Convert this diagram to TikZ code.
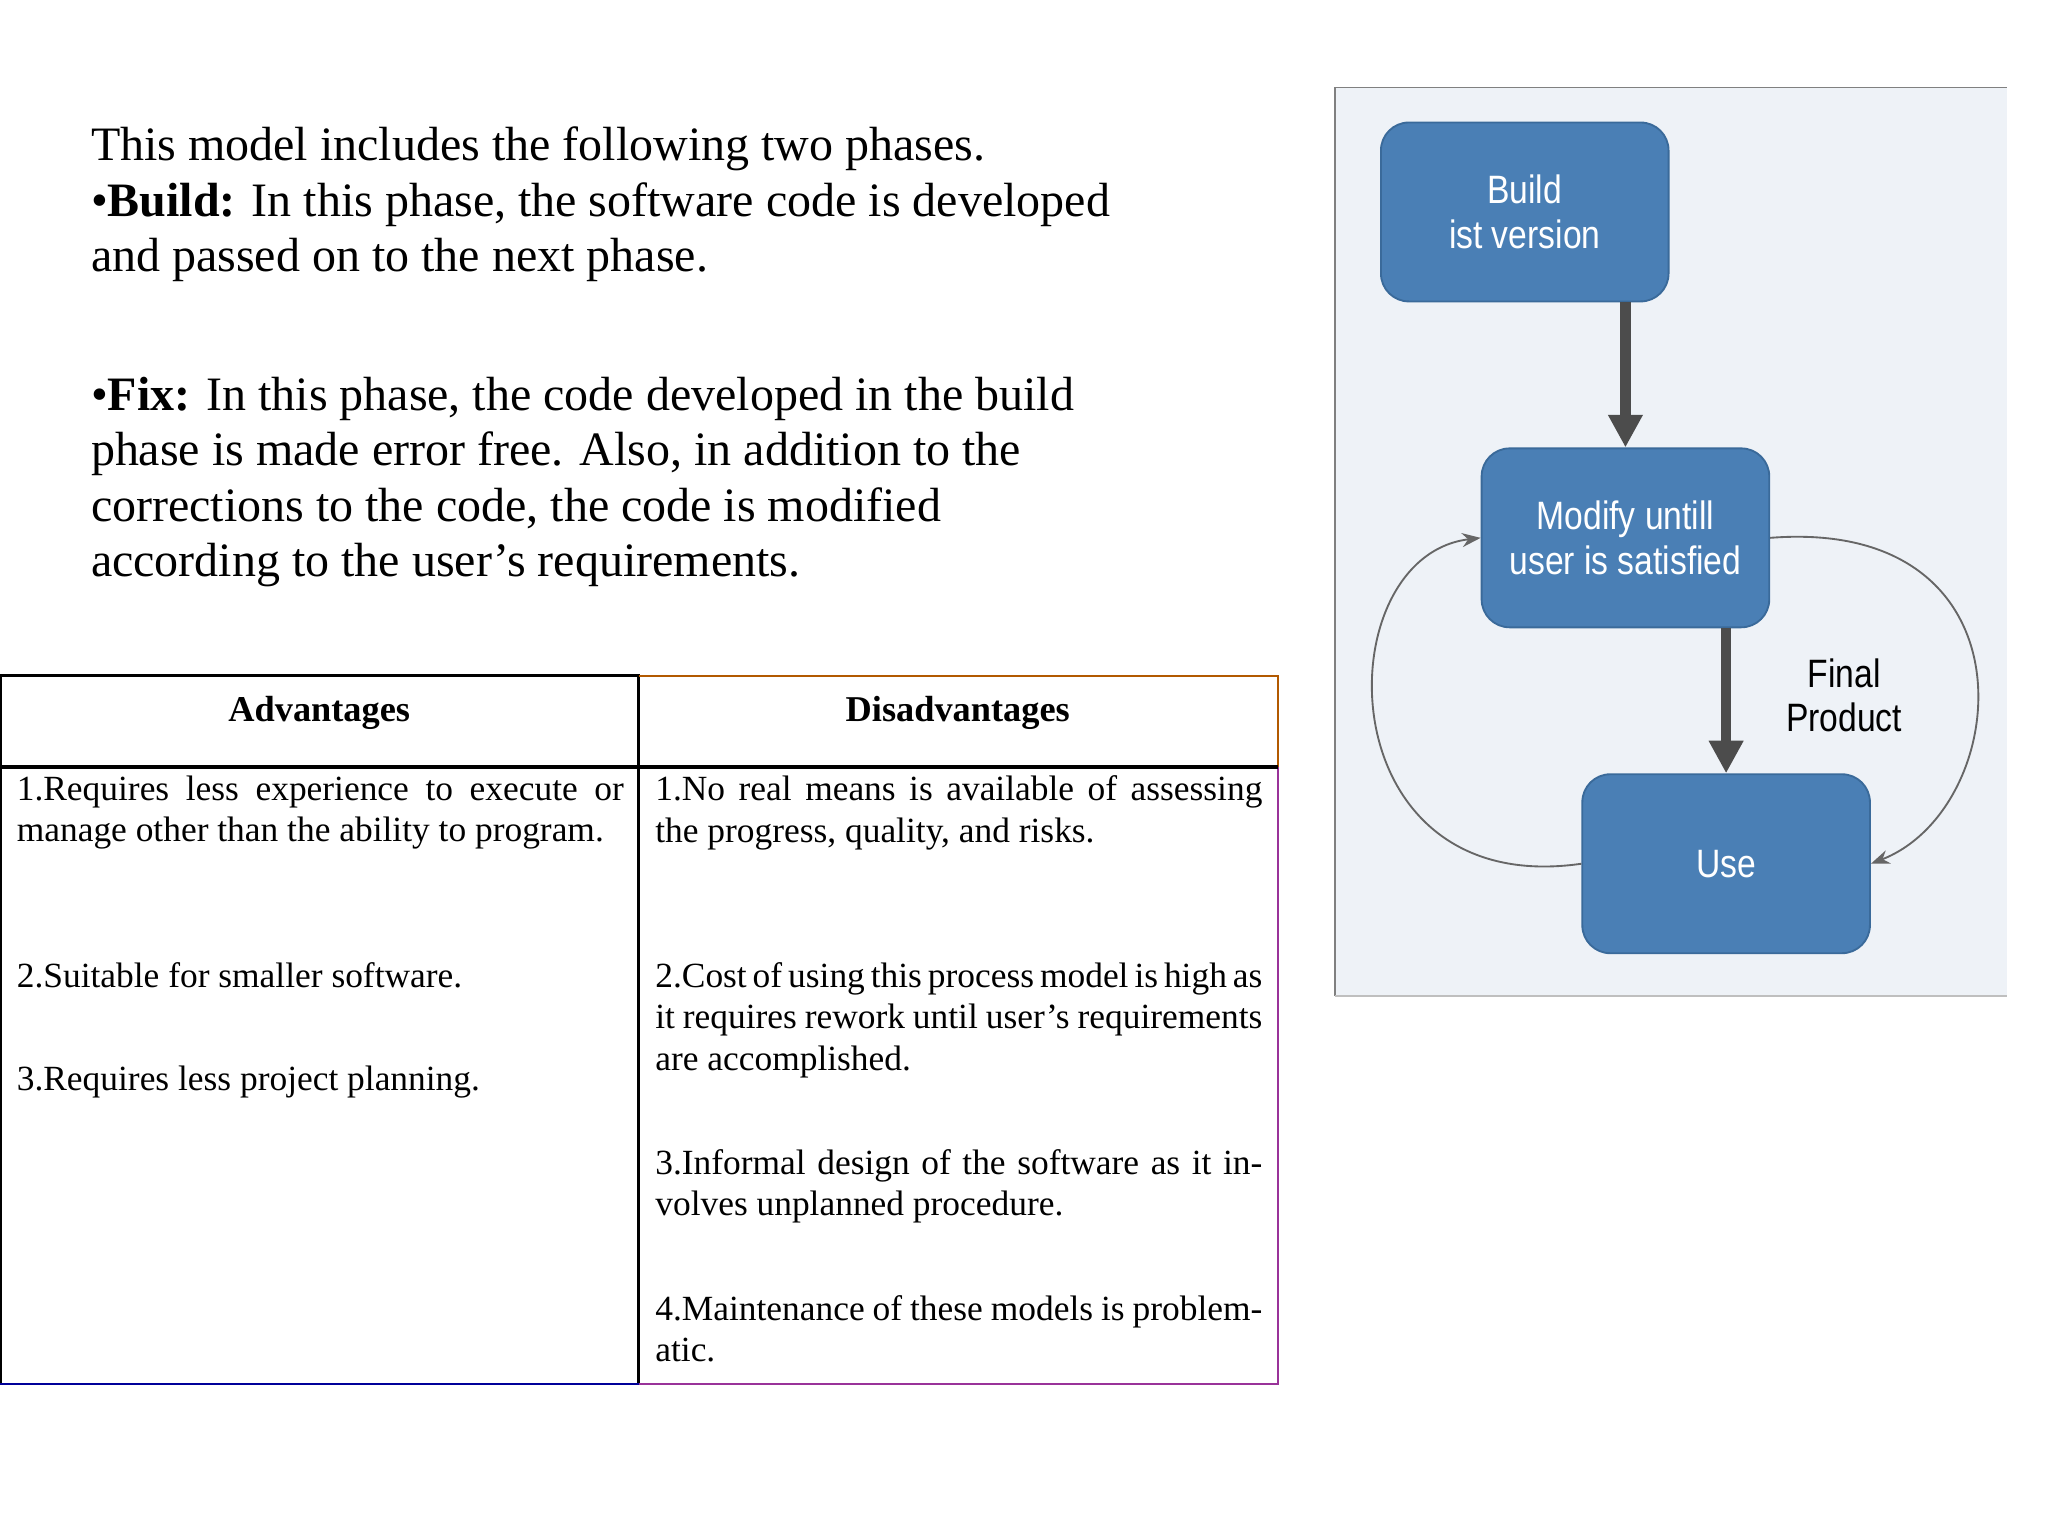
\documentclass[tikz,border=0pt]{standalone}
\usepackage{fontspec}
\setmainfont{Liberation Serif}
\newfontfamily\diagfont{Liberation Sans}[FakeStretch=0.85]
\usetikzlibrary{arrows.meta,positioning}
\definecolor{boxblue}{HTML}{4A7FB5}
\definecolor{boxedge}{HTML}{3A6A9A}
\definecolor{panel}{HTML}{EEF2F7}
\begin{document}
\begin{tikzpicture}
	[x=0.01cm,y=-0.01cm,
	 body/.style={anchor=north west, inner sep=0pt, align=left, font=\fontsize{10.3}{11.9}\selectfont},
	 cell/.style={anchor=north west, inner sep=0pt, text width=4.58cm, align=justify, font=\fontsize{7.6}{8.85}\selectfont},
	 head/.style={font=\fontsize{7.8}{9}\selectfont\bfseries},
	 phase/.style={rounded corners=6pt, fill=boxblue, draw=boxedge, minimum width=2.17cm, minimum height=1.35cm, text=white, align=center, font=\diagfont\fontsize{8.5}{9.5}\selectfont},
	 flow/.style={-{Triangle[length=7pt,width=7pt]}, line width=2.2pt, draw=black!70},
	 back/.style={-{Stealth[length=4pt]}, thin, draw=black!60}]
	\useasboundingbox (0,0) rectangle (1546,1160);

	% text
	\node[body] (intro) at (68,95) {This model includes the following two phases.\\
		\textbullet\textbf{Build:} In this phase, the software code is developed\\
		and passed on to the next phase.};
	\node[body] (fix) at (68,284) {\textbullet\textbf{Fix:} In this phase, the code developed in the build\\
		phase is made error free. Also, in addition to the\\
		corrections to the code, the code is modified\\
		according to the user's requirements.};

	% table
	\draw[black, thick] (0,1045) -- (0,510) -- (482,510) -- (482,1045);
	\draw[blue!60!black] (0,1045) -- (482,1045);
	\draw[orange!70!black] (482,510) -- (965,510) -- (965,579);
	\draw[violet!80] (965,579) -- (965,1045) -- (482,1045);
	\draw[black, thick] (0,579) -- (965,579);
	\node[head] (adv) at (241,538) {Advantages};
	\node[head] (dis) at (723,538) {Disadvantages};
	\node[cell] (a1) at (12,585) {1.Requires less experience to execute or manage other than the ability to program.};
	\node[cell] (a2) at (12,726) {2.Suitable for smaller software.};
	\node[cell] (a3) at (12,804) {3.Requires less project planning.};
	\node[cell] (d1) at (494,585) {1.No real means is available of assessing the progress, quality, and risks.};
	\node[cell] (d2) at (494,726) {2.Cost of using this process model is high as it requires rework until user's requirements are accomplished.};
	\node[cell] (d3) at (494,867) {3.Informal design of the software as it involves unplanned procedure.};
	\node[cell] (d4) at (494,977) {4.Maintenance of these models is problematic.};

	% diagram
	\fill[panel] (1008,66) rectangle (1515,752);
	\draw[black!50] (1008,752) -- (1008,66) -- (1515,66);
	\draw[black!25] (1008,752) -- (1515,752);
	\node[phase] (build) at (1151,160) {Build\\ist version};
	\node[phase] (modify) at (1227,406) {Modify untill\\user is satisfied};
	\node[phase] (use) at (1303,652) {Use};
	\draw[flow] (build.south -| modify.north) -- (modify.north);
	\draw[flow] (modify.south -| use.north) -- (use.north);
	\draw[back] (use.west) .. controls (1000,680) and (1000,420) .. (modify.west);
	\draw[back] (modify.east) .. controls (1540,390) and (1520,610) .. (use.east);
	\node[font=\diagfont\fontsize{8.5}{9.5}\selectfont, align=center] (final) at (1392,525) {Final\\Product};
\end{tikzpicture}
\end{document}
